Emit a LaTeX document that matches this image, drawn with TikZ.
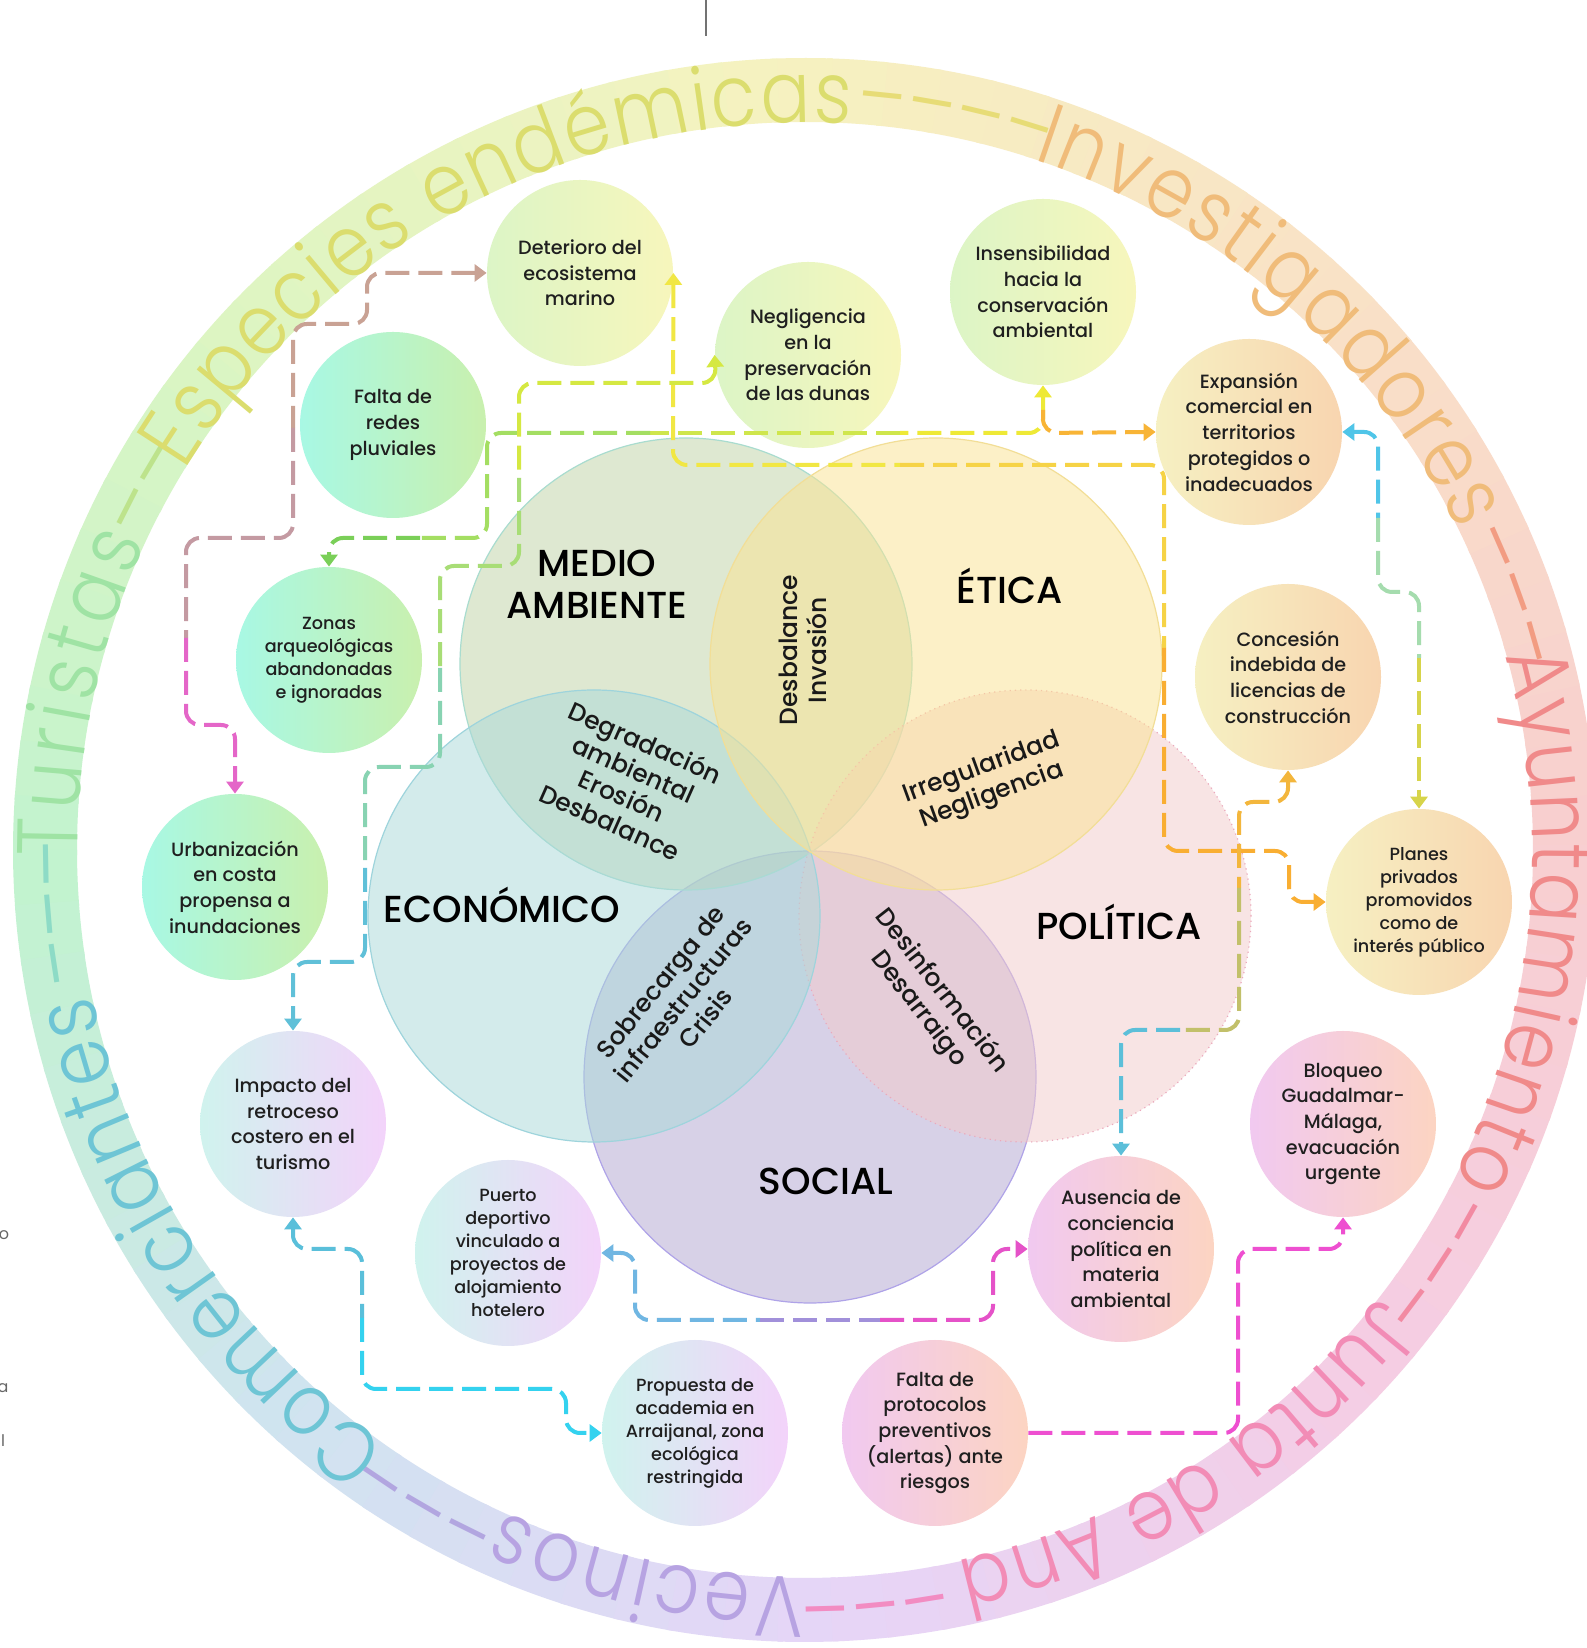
\documentclass[tikz,border=0pt]{standalone}
\usepackage{fontspec}
\setmainfont{Poppins}
\IfFontExistsTF{Poppins Medium}
  {\newfontfamily\medfam{Poppins Medium}}
  {\newfontfamily\medfam{Poppins}[FakeBold=0.4]}
\IfFontExistsTF{Poppins Light}
  {\newfontfamily\lightfam{Poppins Light}[FakeStretch=0.86]}
  {\newfontfamily\lightfam{Poppins}[FakeStretch=0.86]}
\usetikzlibrary{arrows.meta}
\usetikzlibrary{decorations.text}

\newcommand\titlefont{\medfam\fontsize{18.8pt}{21pt}\selectfont}
\newcommand\interfont{\medfam\fontsize{12.5pt}{14.5pt}\selectfont}
\newcommand\bubblefont{\medfam\fontsize{9.6pt}{12.85pt}\selectfont}
\newcommand\smallbubblefont{\medfam\fontsize{8.8pt}{11.5pt}\selectfont}
\newcommand\ringfont{\lightfam\fontsize{43pt}{43pt}\selectfont}

% ring band colours (every 45 degrees, counter-clockwise from the right)
\definecolor{ring0}{HTML}{F8CFCF}
\definecolor{ring1}{HTML}{F9E2C6}
\definecolor{ring2}{HTML}{F6F2C0}
\definecolor{ring3}{HTML}{DDF5C2}
\definecolor{ring4}{HTML}{C2F3CF}
\definecolor{ring5}{HTML}{CFE4F0}
\definecolor{ring6}{HTML}{E6D5F7}
\definecolor{ring7}{HTML}{F5CDE4}
\definecolor{ring8}{HTML}{F8CFCF}

% ring words
\definecolor{wVec}{HTML}{B7A3E2}
\definecolor{wVecD}{HTML}{B2A6E0}
\definecolor{wCom}{HTML}{6EC5D5}
\definecolor{wComD}{HTML}{8DDBC6}
\definecolor{wTur}{HTML}{9FE3A4}
\definecolor{wTurD}{HTML}{BDE38C}
\definecolor{wEsp}{HTML}{DBDD6E}
\definecolor{wEspD}{HTML}{E7DC76}
\definecolor{wInv}{HTML}{F0BC7A}
\definecolor{wInvD}{HTML}{F29C82}
\definecolor{wAyu}{HTML}{F08A8A}
\definecolor{wAyuD}{HTML}{F28AA2}
\definecolor{wJun}{HTML}{F28CB6}
\definecolor{wJunD}{HTML}{F28CC2}

% venn fills and borders
\definecolor{meF}{HTML}{BFD3A5}\definecolor{meB}{HTML}{A9DCCF}
\definecolor{etF}{HTML}{FBE391}\definecolor{etB}{HTML}{F2DE96}
\definecolor{ecF}{HTML}{A9D9D9}\definecolor{ecB}{HTML}{9ED4DC}
\definecolor{poF}{HTML}{F3CBCB}\definecolor{poB}{HTML}{EBA9BC}
\definecolor{soF}{HTML}{B1A5D1}\definecolor{soB}{HTML}{AFA3E8}

% bubble shades (left, right)
\definecolor{grnL}{HTML}{DCF5C6}\definecolor{yelR}{HTML}{F7F6BC}
\definecolor{aquL}{HTML}{A8F8E4}\definecolor{limR}{HTML}{C9F0AE}
\definecolor{creL}{HTML}{F6F0C2}\definecolor{pchR}{HTML}{F8D5B0}
\definecolor{mntL}{HTML}{D0F3EE}\definecolor{lilR}{HTML}{F3D3FA}
\definecolor{pnkL}{HTML}{F1C9F0}\definecolor{salR}{HTML}{FCD4C2}

% connector colours
\definecolor{aA1}{HTML}{C9A294}\definecolor{aA2}{HTML}{C49AA2}\definecolor{aA3}{HTML}{E466C8}
\definecolor{bB1}{HTML}{EEE936}\definecolor{bB2}{HTML}{CFE64C}\definecolor{bB3}{HTML}{A4DE62}
\definecolor{bB4}{HTML}{7ACF58}\definecolor{bB5}{HTML}{F8B436}
\definecolor{cC1}{HTML}{F1E744}\definecolor{cC2}{HTML}{F6D346}\definecolor{cC3}{HTML}{F9AE32}
\definecolor{dD1}{HTML}{D5E842}\definecolor{dD2}{HTML}{A8DD76}\definecolor{dD3}{HTML}{88D3B2}
\definecolor{dD4}{HTML}{60C0D8}
\definecolor{eE1}{HTML}{5ABFDA}\definecolor{eE2}{HTML}{34D2EF}
\definecolor{fF1}{HTML}{70B6E2}\definecolor{fF2}{HTML}{A190DA}\definecolor{fF3}{HTML}{E552C8}
\definecolor{gG}{HTML}{EE4FD0}
\definecolor{hH1}{HTML}{F3B63C}\definecolor{hH2}{HTML}{C2C06A}\definecolor{hH3}{HTML}{5CBFD9}
\definecolor{iI1}{HTML}{50C5E8}\definecolor{iI2}{HTML}{A5DCAE}\definecolor{iI3}{HTML}{D7D44A}

\begin{document}
\begin{tikzpicture}[
  x=0.5pt, y=0.5pt,
  % --- styles ---
  venn/.style={circle, minimum size=226pt, inner sep=0pt, fill opacity=0.5, line width=0.6pt},
  title/.style={font=\titlefont, align=center, text=black},
  inter/.style={font=\interfont, align=center, text=black!90},
  bubble/.style={circle, minimum size=93pt, inner sep=0pt, align=center, font=\bubblefont, text=black!88},
  smallbubble/.style={bubble, font=\smallbubblefont},
  link/.style={line width=2pt, dash pattern=on 12pt off 4.5pt, rounded corners=7pt},
  tipend/.style={-{Triangle[length=6pt, width=8.5pt]}},
  tipstart/.style={{Triangle[length=6pt, width=8.5pt]}-},
  ringtext/.style 2 args={decorate, decoration={text along path, text={|\ringfont|#2}, text color=#1, text align={fit to path}}}
]

\useasboundingbox (0,0) rectangle (1586,1648);
\fill[white] (0,0) rectangle (1586,1648);

% ======================================================
% Outer ring (band + actors)
% ======================================================
\foreach \a in {0,4,...,356}{
  \pgfmathtruncatemacro\k{floor(\a/45)}
  \pgfmathtruncatemacro\kn{\k+1}
  \pgfmathtruncatemacro\pc{100-round(100*(\a-45*\k)/45)}
  \colorlet{segc}{ring\k!\pc!ring\kn}
  \draw[segc, line width=32pt] (805,798) ++(\a:760) arc[start angle=\a, end angle=\a+4.4, radius=760];
}

\path[ringtext={wVec}{Vecinos}]               (805,798) ++(270:727)   arc[start angle=270,   end angle=245.5, radius=727];
\path[ringtext={wVecD}{–––}]                  (805,798) ++(245.5:727) arc[start angle=245.5, end angle=235,   radius=727];
\path[ringtext={wCom}{Comerciantes}]          (805,798) ++(235:727)   arc[start angle=235,   end angle=191.5, radius=727];
\path[ringtext={wComD}{–––}]                  (805,798) ++(190.5:727) arc[start angle=190.5, end angle=180.5, radius=727];
\path[ringtext={wTur}{Turistas}]              (805,798) ++(180.5:727) arc[start angle=180.5, end angle=155,   radius=727];
\path[ringtext={wTurD}{–––}]                  (805,798) ++(155:727)   arc[start angle=155,   end angle=148.5, radius=727];
\path[ringtext={wEsp}{Especies endémicas}]    (805,798) ++(148.5:727) arc[start angle=148.5, end angle=86.4,  radius=727];
\path[ringtext={wEspD}{––––}]                 (805,798) ++(86:727)    arc[start angle=86,    end angle=72,    radius=727];
\path[ringtext={wInv}{Investigadores}]        (805,798) ++(71.7:727)  arc[start angle=71.7,  end angle=26,    radius=727];
\path[ringtext={wInvD}{–––}]                  (805,798) ++(25.5:727)  arc[start angle=25.5,  end angle=16,    radius=727];
\path[ringtext={wAyu}{Ayuntamiento}]          (805,798) ++(15.5:727)  arc[start angle=15.5,  end angle=-27,   radius=727];
\path[ringtext={wAyuD}{–––}]                  (805,798) ++(-27.5:727) arc[start angle=-27.5, end angle=-37.5, radius=727];
\path[ringtext={wJun}{Junta de And}]          (805,798) ++(-37.8:727) arc[start angle=-37.8, end angle=-78,   radius=727];
\path[ringtext={wJunD}{––––}]                 (805,798) ++(-79:727)   arc[start angle=-79,   end angle=-89.5, radius=727];

% page leftovers
\draw[black!55, line width=0.6pt] (706,1648) -- (706,1612);
\node[font=\fontsize{8pt}{8pt}\selectfont, text=black!60] (lo) at (4,413) {o};
\node[font=\fontsize{8pt}{8pt}\selectfont, text=black!60] (la) at (3,260) {a};
\node[font=\fontsize{8pt}{8pt}\selectfont, text=black!60] (ll) at (3,207) {l};

% ======================================================
% Venn of dimensions
% ======================================================
\node[venn, fill=soF, draw=soB] (so) at (810,571) {};
\node[venn, fill=meF, draw=meB] (me) at (686,984) {};
\node[venn, fill=poF, draw=poB, dotted] (po) at (1025,732) {};
\node[venn, fill=ecF, draw=ecB] (ec) at (594,732) {};
\node[venn, fill=etF, draw=etB] (et) at (936,984) {};

\node[title] (tme) at (597,1064) {MEDIO\\AMBIENTE};
\node[title] (tet) at (1010,1062) {ÉTICA};
\node[title] (tec) at (502,743) {ECONÓMICO};
\node[title] (tpo) at (1119,726) {POLÍTICA};
\node[title] (tso) at (826,467) {SOCIAL};

\node[inter, rotate=90]  (xmeet) at (803,998) {Desbalance\\Invasión};
\node[inter, rotate=-24] (xmeec) at (628,866) {Degradación\\ambiental\\Erosión\\Desbalance};
\node[inter, rotate=20]  (xetpo) at (987,866) {Irregularidad\\Negligencia};
\node[inter, rotate=51]  (xecso) at (683,648) {Sobrecarga de\\infraestructuras\\Crisis};
\node[inter, rotate=-52] (xposo) at (930,648) {Desinformación\\Desarraigo};

% ======================================================
% Problems (bubbles)
% ======================================================
\node[bubble, left color=grnL, right color=yelR] (det) at (580,1375) {Deterioro del\\ecosistema\\marino};
\node[bubble, left color=grnL, right color=yelR] (neg) at (808,1293) {Negligencia\\en la\\preservación\\de las dunas};
\node[bubble, left color=grnL, right color=yelR] (ins) at (1043,1356) {Insensibilidad\\hacia la\\conservación\\ambiental};
\node[bubble, left color=aquL, right color=limR] (fal) at (393,1223) {Falta de\\redes\\pluviales};
\node[bubble, left color=creL, right color=pchR] (exp) at (1249,1216) {Expansión\\comercial en\\territorios\\protegidos o\\inadecuados};
\node[smallbubble, left color=aquL, right color=limR] (zon) at (329,988) {Zonas\\arqueológicas\\abandonadas\\e ignoradas};
\node[bubble, left color=creL, right color=pchR] (con) at (1288,971) {Concesión\\indebida de\\licencias de\\construcción};
\node[bubble, left color=aquL, right color=limR] (urb) at (235,761) {Urbanización\\en costa\\propensa a\\inundaciones};
\node[smallbubble, left color=creL, right color=pchR] (pla) at (1419,746) {Planes\\privados\\promovidos\\como de\\interés público};
\node[bubble, left color=mntL, right color=lilR] (imp) at (293,524) {Impacto del\\retroceso\\costero en el\\turismo};
\node[bubble, left color=pnkL, right color=salR] (blo) at (1343,524) {Bloqueo\\Guadalmar-\\Málaga,\\evacuación\\urgente};
\node[smallbubble, left color=mntL, right color=lilR] (pue) at (508,395) {Puerto\\deportivo\\vinculado a\\proyectos de\\alojamiento\\hotelero};
\node[bubble, left color=pnkL, right color=salR] (aus) at (1121,399) {Ausencia de\\conciencia\\política en\\materia\\ambiental};
\node[smallbubble, left color=mntL, right color=lilR] (pro) at (695,215) {Propuesta de\\academia en\\Arraijanal, zona\\ecológica\\restringida};
\node[bubble, left color=pnkL, right color=salR] (ftp) at (935,215) {Falta de\\protocolos\\preventivos\\(alertas) ante\\riesgos};

% ======================================================
% Connectors (split where the colour shifts)
% ======================================================
\coordinate (aS1) at (293,1220);
\coordinate (aS2) at (186,1010);
\coordinate (bJ)  at (1043,1215);
\coordinate (bS0) at (1043,1238);
\coordinate (bS1) at (900,1215);
\coordinate (bS2) at (650,1215);
\coordinate (bS3) at (420,1110);
\coordinate (cS1) at (900,1183);
\coordinate (cS2) at (1164,1000);
\coordinate (dS1) at (519,1170);
\coordinate (dS2) at (440,980);
\coordinate (dS3) at (365,780);
\coordinate (eS1) at (362,330);
\coordinate (fS1) at (760,328);
\coordinate (fS2) at (880,328);
\coordinate (hS1) at (1239,760);
\coordinate (hS2) at (1180,618);
\coordinate (iS1) at (1378,1130);
\coordinate (iS2) at (1419,990);

% marine ecosystem <-> coastal urbanisation
\draw[link, tipstart, draw=aA1] (det.west) -- (367,1375) -- (367,1324) -- (293,1324) -- (aS1);
\draw[link, draw=aA2] (aS1) -- (293,1110) -- (186,1110) -- (aS2);
\draw[link, tipend, draw=aA3] (aS2) -- (186,923) -- (235,923) -- (urb.north);

% insensitivity <-> archaeological zones / commercial expansion
\draw[link, tipstart, draw=bB1] (ins.south) -- (bJ) -- (bS1);
\draw[link, draw=bB2] (bS1) -- (bS2);
\draw[link, draw=bB3] (bS2) -- (487,1215) -- (487,1110) -- (bS3);
\draw[link, tipend, draw=bB4] (bS3) -- (329,1110) -- (zon.north);
\draw[link, tipend, draw=bB5] (bS0) -- (bJ) -- (exp.west);

% marine ecosystem <-> private plans
\draw[link, tipstart, draw=cC1] (det.east) -- (673,1183) -- (cS1);
\draw[link, draw=cC2] (cS1) -- (1164,1183) -- (cS2);
\draw[link, tipend, draw=cC3] (cS2) -- (1164,797) -- (1289,797) -- (1289,746) -- (pla.west);

% dunes <-> coastal retreat
\draw[link, tipstart, draw=dD1] (neg.west) -- (716,1265) -- (519,1265) -- (dS1);
\draw[link, draw=dD2] (dS1) -- (519,1082) -- (440,1082) -- (dS2);
\draw[link, draw=dD3] (dS2) -- (440,881) -- (365,881) -- (dS3);
\draw[link, tipend, draw=dD4] (dS3) -- (365,686) -- (293,686) -- (imp.north);

% coastal retreat <-> academy proposal
\draw[link, tipstart, draw=eE1] (imp.south) -- (293,399) -- (362,399) -- (eS1);
\draw[link, tipend, draw=eE2] (eS1) -- (362,259) -- (566,259) -- (566,215) -- (pro.west);

% marina <-> political awareness
\draw[link, tipstart, draw=fF1] (pue.east) -- (635,395) -- (635,328) -- (fS1);
\draw[link, draw=fF2] (fS1) -- (fS2);
\draw[link, tipend, draw=fF3] (fS2) -- (993,328) -- (993,399) -- (aus.west);

% protocols <-> blockade
\draw[link, tipstart, tipend, draw=gG] (ftp.east) -- (1238,215) -- (1238,399) -- (1343,399) -- (blo.south);

% licences <-> political awareness
\draw[link, tipstart, draw=hH1] (con.south) -- (1288,846) -- (1239,846) -- (hS1);
\draw[link, draw=hH2] (hS1) -- (1239,618) -- (hS2);
\draw[link, tipend, draw=hH3] (hS2) -- (1121,618) -- (aus.north);

% commercial expansion <-> private plans
\draw[link, tipstart, draw=iI1] (exp.east) -- (1378,1216) -- (iS1);
\draw[link, draw=iI2] (iS1) -- (1378,1056) -- (1419,1056) -- (iS2);
\draw[link, tipend, draw=iI3] (iS2) -- (pla.north);

\end{tikzpicture}
\end{document}
